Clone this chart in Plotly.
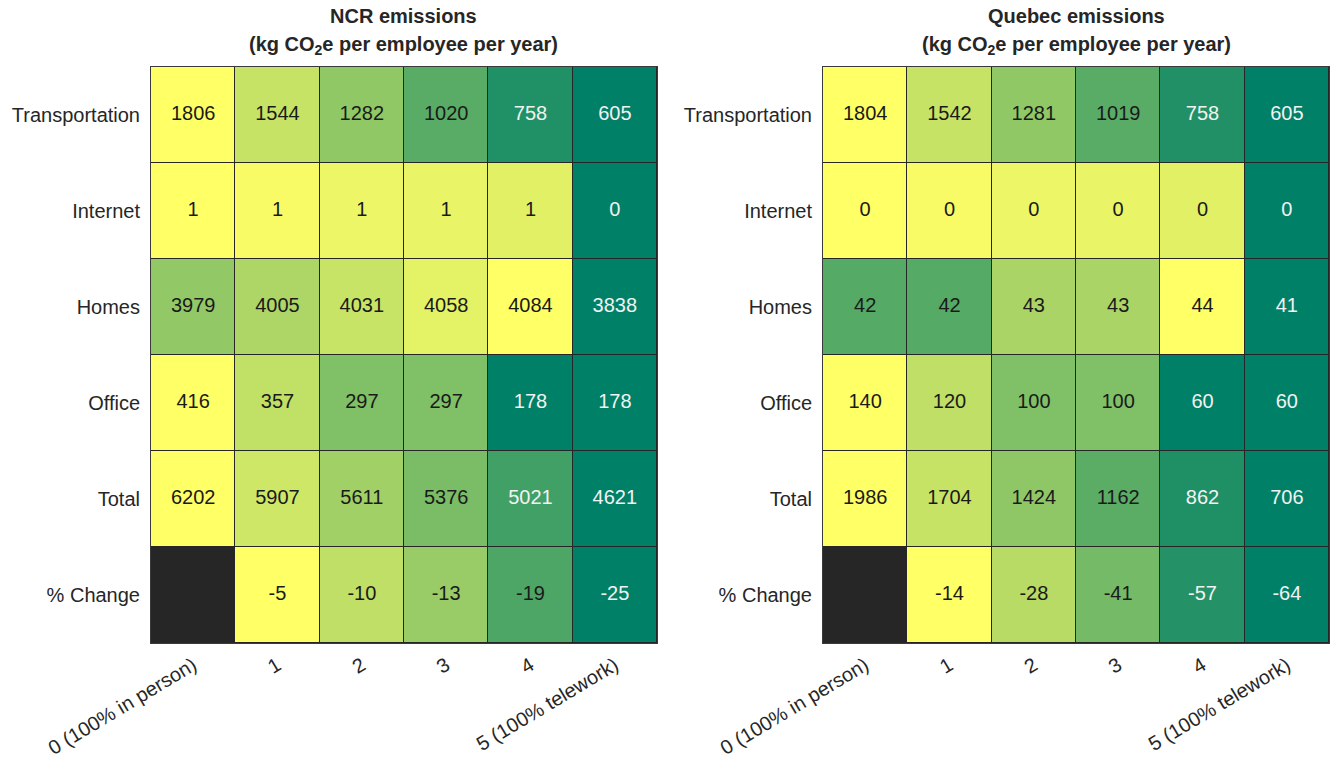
import plotly.graph_objects as go

# Days of telework per week (columns) and emission categories (rows)
days = ["0 (100% in person)", "1", "2", "3", "4", "5 (100% telework)"]
categories = ["Transportation", "Internet", "Homes", "Office", "Total", "% Change"]

# NCR emissions, kg CO2e per employee per year
ncr_transportation = [1806, 1544, 1282, 1020, 758, 605]
ncr_internet = [0.80, 0.78, 0.75, 0.74, 0.72, 0.10]
ncr_homes = [3979, 4005, 4031, 4058, 4084, 3838]
ncr_office = [416, 357, 297, 297, 178, 178]
ncr_total = [6202, 5907, 5611, 5376, 5021, 4621]
ncr_change = [None, -5, -10, -13, -19, -25]

# Quebec emissions, kg CO2e per employee per year
qc_transportation = [1804, 1542, 1281, 1019, 758, 605]
qc_internet = [0.40, 0.39, 0.375, 0.37, 0.36, 0.05]
qc_homes = [42, 42, 43, 43, 44, 41]
qc_office = [140, 120, 100, 100, 60, 60]
qc_total = [1986, 1704, 1424, 1162, 862, 706]
qc_change = [None, -14, -28, -41, -57, -64]

ncr_rows = [ncr_transportation, ncr_internet, ncr_homes, ncr_office, ncr_total, ncr_change]
qc_rows = [qc_transportation, qc_internet, qc_homes, qc_office, qc_total, qc_change]

# "summer" colormap: green for the row minimum, yellow for the row maximum
SUMMER = [[0.0, "rgb(0,128,102)"], [1.0, "rgb(255,255,102)"]]
FONT = "Liberation Sans, Arial, sans-serif"
TEXT_DARK = "#262626"

fig = go.Figure()


def row_scaled(vals):
    """Scale one row to 0..1 so every row spans the full colormap."""
    valid = [v for v in vals if v is not None]
    lo, hi = min(valid), max(valid)
    return [None if v is None else ((v - lo) / (hi - lo) if hi > lo else 1.0) for v in vals]


def add_panel(rows, xa, ya):
    scaled = [row_scaled(r) for r in rows]
    fig.add_trace(go.Heatmap(
        z=scaled, x=days, y=categories, customdata=rows,
        colorscale=SUMMER, zmin=0, zmax=1, showscale=False,
        xgap=1, ygap=1, xaxis=xa, yaxis=ya, hoverinfo="skip",
    ))
    tx, ty, tt, tc = [], [], [], []
    for name, vals, fr in zip(categories, rows, scaled):
        for d, v, f in zip(days, vals, fr):
            if v is None:
                continue
            tx.append(d)
            ty.append(name)
            tt.append(f"{v:.0f}")
            tc.append("#f2f2f2" if f < 0.28 else "#1a1a1a")
    fig.add_trace(go.Scatter(
        x=tx, y=ty, text=tt, mode="text", xaxis=xa, yaxis=ya,
        textfont=dict(family=FONT, size=20, color=tc),
        hoverinfo="skip", showlegend=False,
    ))


add_panel(ncr_rows, "x", "y")
add_panel(qc_rows, "x2", "y2")

top, bottom = 1 - 67 / 759, 1 - 643 / 759
axis_common = dict(
    showgrid=False, zeroline=False, showline=True, mirror=True,
    linecolor="#3a3a3a", linewidth=1, ticks="", automargin=False,
    tickfont=dict(family=FONT, size=20, color=TEXT_DARK),
)
xcommon = dict(axis_common, type="category", categoryorder="array",
               categoryarray=days, tickangle=-31, range=[-0.5, 5.5],
               ticklabelstandoff=2)
ycommon = dict(axis_common, type="category", categoryorder="array",
               categoryarray=categories, range=[5.5, -0.5], ticklabelstandoff=6)

fig.update_layout(
    width=1337, height=759,
    margin=dict(l=0, r=0, t=0, b=0),
    paper_bgcolor="white",
    plot_bgcolor="#262626",
    showlegend=False,
    xaxis=dict(xcommon, domain=[151 / 1337, 657 / 1337], anchor="y"),
    yaxis=dict(ycommon, domain=[bottom, top], anchor="x"),
    xaxis2=dict(xcommon, domain=[823 / 1337, 1329 / 1337], anchor="y2"),
    yaxis2=dict(ycommon, domain=[bottom, top], anchor="x2"),
)

# two-line bold titles above each panel
for title, xc in [("NCR emissions", 404 / 1337), ("Quebec emissions", 1076 / 1337)]:
    fig.add_annotation(
        text=f"<b>{title}</b>",
        x=xc, y=1 - 16 / 759, xref="paper", yref="paper",
        xanchor="center", yanchor="middle", showarrow=False,
        font=dict(family=FONT, size=20, color=TEXT_DARK),
    )
    fig.add_annotation(
        text="<b>(kg CO<sub>2</sub>e per employee per year)</b>",
        x=xc, y=1 - 31 / 759, xref="paper", yref="paper",
        xanchor="center", yanchor="top", showarrow=False,
        font=dict(family=FONT, size=20, color=TEXT_DARK),
    )

fig.write_html("out.html")
